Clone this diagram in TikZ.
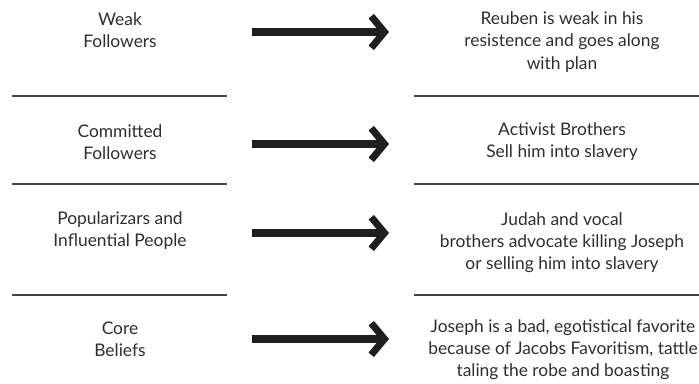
\documentclass[tikz,border=0pt]{standalone}
\usepackage{fontspec}
\setmainfont{Lato}
\usetikzlibrary{arrows.meta}
\definecolor{inkgray}{HTML}{2E2E2E}
\tikzset{
	coltext/.style={align=center, text=inkgray, font=\fontsize{9.9}{12.6}\selectfont, inner sep=0pt},
	rowline/.style={line width=0.9pt, color=inkgray!90},
	bigarrow/.style={line width=4pt, color=black!88, -{Straight Barb[length=7.5pt, width=18pt]}}
}

\begin{document}
\begin{tikzpicture}[x=0.02cm, y=-0.02cm]
			%%%%% START %%%%%
			\useasboundingbox (0, 0) rectangle (699, 384);
			
			% left column
			\node[coltext] (weak) at (120, 30) {Weak\\Followers};
			\node[coltext] (committed) at (120, 142) {Committed\\Followers};
			\node[coltext] (popular) at (120, 231) {Popularizars and\\Influential People};
			\node[coltext] (core) at (120, 339) {Core\\Beliefs};
			
			% right column
			\node[coltext] (reuben) at (562, 42) {Reuben is weak in his\\resistence and goes along\\with plan};
			\node[coltext] (activist) at (562, 142) {Activist Brothers\\Sell him into slavery};
			\node[coltext] (judah) at (562, 243) {Judah and vocal\\brothers advocate killing Joseph\\or selling him into slavery};
			\node[coltext] (joseph) at (563, 350) {Joseph is a bad, egotistical favorite\\because of Jacobs Favoritism, tattle\\taling the robe and boasting};
			
			% separators
			\draw[rowline] (12, 96) -- (227, 96);
			\draw[rowline] (414, 96) -- (699, 96);
			\draw[rowline] (12, 184) -- (227, 184);
			\draw[rowline] (414, 184) -- (699, 184);
			\draw[rowline] (12, 295) -- (227, 295);
			\draw[rowline] (414, 295) -- (699, 295);
			
			% arrows
			\coordinate (a1) at (252, 32);
			\coordinate (b1) at (389, 32);
			\coordinate (a2) at (252, 144);
			\coordinate (b2) at (389, 144);
			\coordinate (a3) at (252, 233);
			\coordinate (b3) at (389, 233);
			\coordinate (a4) at (252, 339);
			\coordinate (b4) at (389, 339);
			\draw[bigarrow] (a1) -- (b1);
			\draw[bigarrow] (a2) -- (b2);
			\draw[bigarrow] (a3) -- (b3);
			\draw[bigarrow] (a4) -- (b4);
			
			%%%%% END %%%%%
\end{tikzpicture}
\end{document}
